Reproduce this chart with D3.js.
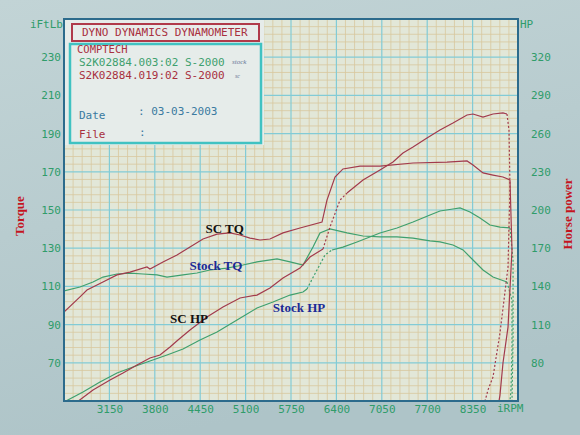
<!DOCTYPE html>
<html>
<head>
<meta charset="utf-8">
<script src="https://cdn.jsdelivr.net/npm/d3@7"></script>
<style>
  body { margin: 0; background: #bccfd2; }
  svg { display: block; }
  .tick text { font-family: "DejaVu Sans Mono", monospace; font-size: 11px; fill: #2f9c6a; }
  .mono { font-family: "DejaVu Sans Mono", monospace; font-size: 11px; }
  .tag { font-family: "Liberation Serif", serif; font-size: 13px; font-weight: bold; }
</style>
</head>
<body>
<div id="chart"></div>
<script>
// rpm ticks, torque ticks (lb ft), power ticks (HP)
const rpmTicks = [3150, 3800, 4450, 5100, 5750, 6400, 7050, 7700, 8350];
const torqueTicks = [70, 90, 110, 130, 150, 170, 190, 210, 230];
const hpTicks = [80, 110, 140, 170, 200, 230, 260, 290, 320];

// [rpm, lb ft]
const scTq = [
  [2500, 96.6], [2729, 104.5], [2829, 108.1], [3058, 112.3], [3259, 116.0], [3445, 117.5],
  [3688, 120.2], [3731, 119.1], [3917, 122.8], [4118, 126.4], [4304, 130.6], [4490, 134.8],
  [4691, 137.4], [4877, 138.0], [5020, 136.9], [5163, 135.3], [5306, 134.3], [5449, 134.8],
  [5635, 138.0], [5879, 140.6], [6194, 143.7], [6265, 155.2], [6380, 167.3], [6494, 171.5],
  [6738, 173.0], [7024, 173.0], [7497, 174.6], [7983, 175.1], [8270, 175.7], [8356, 173.6],
  [8499, 169.4], [8642, 168.3], [8785, 167.3], [8885, 165.7]
];
const scTqRundown = [[8914, 129.1], [8857, 88.7], [8785, 69.9], [8742, 53.1], [8728, 50]];

// [rpm, HP]
const scHp = [
  [2500, 41.4], [2686, 49.2], [2915, 58.6], [3159, 66.5], [3345, 72.0], [3545, 78.3],
  [3731, 83.8], [3874, 86.1], [4018, 92.4], [4132, 97.9], [4304, 105.8], [4547, 116.0],
  [4776, 123.8], [5020, 130.9], [5263, 133.2], [5449, 138.7], [5635, 146.6], [5879, 154.4],
  [6022, 163.1], [6208, 169.4], [6308, 186.6], [6452, 207.8], [6552, 213.3], [6781, 223.5],
  [7024, 231.4], [7210, 237.7], [7353, 244.8], [7497, 249.5], [7697, 256.5], [7883, 262.8],
  [8069, 268.3], [8270, 274.6], [8356, 275.4], [8499, 273.0], [8642, 275.4], [8785, 276.2],
  [8842, 275.4]
];
const scHpRundown = [[8871, 262.8], [8885, 218.0], [8857, 155.2], [8742, 103.4], [8642, 68.8], [8570, 58.6], [8528, 50]];

const stockTq = [
  [2500, 107.6], [2729, 109.7], [2915, 112.3], [3058, 114.9], [3259, 116.5], [3445, 117.0],
  [3631, 116.5], [3832, 116.0], [3975, 114.9], [4204, 116.0], [4404, 117.0], [4590, 118.6],
  [4834, 119.6], [5063, 121.2], [5263, 122.8], [5550, 124.4], [5736, 122.8], [5922, 121.2],
  [6065, 130.6], [6165, 138.0], [6308, 140.1], [6552, 138.0], [6781, 136.4], [7024, 135.9],
  [7268, 135.9], [7497, 135.3], [7740, 133.8], [7883, 133.3], [8069, 131.7], [8213, 129.1],
  [8356, 123.8], [8499, 118.6], [8642, 114.9], [8842, 112.3]
];
const stockTqRundown = [[8914, 102.9], [8914, 76.7], [8900, 55.8], [8885, 50]];

const stockHp = [
  [2500, 49.2], [2772, 57.1], [3015, 64.9], [3259, 72.0], [3488, 76.7], [3731, 81.4],
  [3975, 86.1], [4204, 90.8], [4447, 97.9], [4691, 104.2], [4977, 113.6], [5263, 123.0],
  [5492, 127.7], [5736, 133.2], [5922, 135.6], [5979, 138.0], [6122, 152.9], [6237, 164.7],
  [6337, 168.6], [6494, 170.9], [6695, 174.9], [7024, 181.9], [7268, 185.9], [7497, 190.6],
  [7740, 196.1], [7883, 199.2], [8069, 200.8], [8170, 201.6], [8313, 198.4], [8456, 193.7],
  [8599, 188.2], [8742, 186.6], [8885, 185.9]
];
const stockHpRundown = [[8929, 160.7], [8929, 97.9], [8914, 50]];

// rpm stretches where the trace was printed dotted
const scHpDotted = [[6208, 6552]];
const stockHpDotted = [[5979, 6337]];

const W = 580, H = 435;
const pL = 64, pR = 518, pT = 19, pB = 401;

const x = d3.scaleLinear().domain([2500, 9000]).range([pL, pR]);
const yT = d3.scaleLinear().domain([50, 250]).range([pB, pT]);
const yH = d3.scaleLinear().domain([50, 350]).range([pB, pT]);

const red = "#a23a4c", green = "#3ea06e", tickGreen = "#2f9c6a";

const svg = d3.select("#chart").append("svg").attr("width", W).attr("height", H);

const defs = svg.append("defs");
defs.append("clipPath").attr("id", "plotclip")
  .append("rect").attr("x", pL).attr("y", pT).attr("width", pR - pL).attr("height", pB - pT);
const bg = defs.append("linearGradient").attr("id", "bg").attr("x1", 0).attr("y1", 0).attr("x2", 0.3).attr("y2", 1);
bg.append("stop").attr("offset", 0).attr("stop-color", "#c2d4d6");
bg.append("stop").attr("offset", 1).attr("stop-color", "#aec4c8");

svg.append("rect").attr("width", W).attr("height", H).attr("fill", "url(#bg)");

// paper
svg.append("rect").attr("x", pL).attr("y", pT).attr("width", pR - pL).attr("height", pB - pT)
  .attr("fill", "#e2e7d8");

// minor grid (5 per major)
const minorX = d3.range(2500, 9000, 130).filter(v => (v - 2500) % 650 != 0);
const minorY = d3.range(50, 250, 4).filter(v => (v - 50) % 20 != 0);
const grid = svg.append("g");
grid.selectAll(".mx").data(minorX).join("line")
  .attr("x1", d => x(d)).attr("x2", d => x(d)).attr("y1", pT).attr("y2", pB)
  .attr("stroke", "#d8c89e").attr("stroke-width", 0.8);
grid.selectAll(".my").data(minorY).join("line")
  .attr("y1", d => yT(d)).attr("y2", d => yT(d)).attr("x1", pL).attr("x2", pR)
  .attr("stroke", "#d8c89e").attr("stroke-width", 0.8);

// major grid
grid.selectAll(".Mx").data(d3.range(2500, 9001, 650)).join("line")
  .attr("x1", d => x(d)).attr("x2", d => x(d)).attr("y1", pT).attr("y2", pB)
  .attr("stroke", "#82cbd6").attr("stroke-width", 1.2);
grid.selectAll(".My").data(d3.range(50, 251, 20)).join("line")
  .attr("y1", d => yT(d)).attr("y2", d => yT(d)).attr("x1", pL).attr("x2", pR)
  .attr("stroke", "#82cbd6").attr("stroke-width", 1.2);

// split a trace into solid / dotted runs
function pieces(pts, ranges) {
  let out = [], cur = null;
  for (let i = 0; i < pts.length - 1; i++) {
    let mid = (pts[i][0] + pts[i + 1][0]) / 2;
    let dotted = ranges.some(r => mid > r[0] && mid < r[1]);
    if (!cur || cur.dotted != dotted) {
      cur = { dotted: dotted, pts: [pts[i]] };
      out.push(cur);
    }
    cur.pts.push(pts[i + 1]);
  }
  return out;
}

const curves = svg.append("g").attr("clip-path", "url(#plotclip)");

function drawTrace(main, rundown, yScale, color, dotted, rundownDotted) {
  let line = d3.line().x(d => x(d[0])).y(d => yScale(d[1]));
  pieces(main, dotted).forEach(p => {
    curves.append("path").attr("d", line(p.pts))
      .attr("fill", "none").attr("stroke", color).attr("stroke-width", 1.2)
      .attr("stroke-dasharray", p.dotted ? "2,2" : null);
  });
  curves.append("path").attr("d", line([main[main.length - 1]].concat(rundown)))
    .attr("fill", "none").attr("stroke", color).attr("stroke-width", 1.2)
    .attr("stroke-dasharray", rundownDotted ? "2,2" : null);
}

drawTrace(stockTq, stockTqRundown, yT, green, [], true);
drawTrace(stockHp, stockHpRundown, yH, green, stockHpDotted, true);
drawTrace(scTq, scTqRundown, yT, red, [], false);
drawTrace(scHp, scHpRundown, yH, red, scHpDotted, true);

// info box
const box = svg.append("g");
box.append("rect").attr("x", pL + 1).attr("y", pT + 1).attr("width", 199).attr("height", 125).attr("fill", "#e6ecea");
box.append("rect").attr("x", 72).attr("y", 24).attr("width", 187).attr("height", 17)
  .attr("fill", "#e8ecea").attr("stroke", "#b03a4a").attr("stroke-width", 2);
box.append("rect").attr("x", 70).attr("y", 44).attr("width", 191).attr("height", 99)
  .attr("fill", "none").attr("stroke", "#40c2c2").attr("stroke-width", 2.5);

function txt(s, xx, yy, color, size) {
  return box.append("text").attr("class", "mono").attr("x", xx).attr("y", yy).attr("fill", color)
    .style("font-size", (size || 11) + "px").text(s);
}
txt("DYNO DYNAMICS DYNAMOMETER", 82, 36, "#a8303e");
txt("COMPTECH", 77, 52.5, "#a8303e", 10.5);
txt("S2K02884.003:02 S-2000", 79, 65.5, green);
txt("S2K02884.019:02 S-2000", 79, 78.5, "#a8303e");
txt("Date", 79, 119, "#3a7aa0");
txt(": 03-03-2003", 138, 115, "#3a7aa0");
txt("File", 79, 138, "#a8303e");
txt(":", 139, 136, "#3a7aa0");
box.append("text").attr("x", 232).attr("y", 64).attr("fill", "#6a7898")
  .style("font-family", "Liberation Serif, serif").style("font-style", "italic").style("font-size", "7px").text("stock");
box.append("text").attr("x", 235).attr("y", 78).attr("fill", "#6a7898")
  .style("font-family", "Liberation Serif, serif").style("font-style", "italic").style("font-size", "6px").text("sc");

// frame
svg.append("rect").attr("x", pL).attr("y", pT).attr("width", pR - pL).attr("height", pB - pT)
  .attr("fill", "none").attr("stroke", "#2c6b8c").attr("stroke-width", 2);

// axes
svg.append("g").attr("transform", "translate(" + pL + ",0)")
  .call(d3.axisLeft(yT).tickValues(torqueTicks).tickFormat(d3.format("d")).tickSize(0).tickPadding(3))
  .call(g => g.select(".domain").remove());
svg.append("g").attr("transform", "translate(" + pR + ",0)")
  .call(d3.axisRight(yH).tickValues(hpTicks).tickFormat(d3.format("d")).tickSize(0).tickPadding(13))
  .call(g => g.select(".domain").remove());
svg.append("g").attr("transform", "translate(0," + pB + ")")
  .call(d3.axisBottom(x).tickValues(rpmTicks).tickFormat(d3.format("d")).tickSize(0).tickPadding(4))
  .call(g => g.select(".domain").remove());

svg.append("text").attr("class", "mono").attr("x", pL - 1).attr("y", 28).attr("text-anchor", "end")
  .attr("fill", tickGreen).text("iFtLb");
svg.append("text").attr("class", "mono").attr("x", pR + 2).attr("y", 28)
  .attr("fill", tickGreen).text("HP");
svg.append("text").attr("class", "mono").attr("x", pR - 21).attr("y", 412)
  .attr("fill", tickGreen).text("iRPM");

// axis titles
svg.append("text").attr("class", "tag").attr("fill", "#c4141e").attr("text-anchor", "middle")
  .attr("transform", "translate(24,216) rotate(-90)").text("Torque");
svg.append("text").attr("class", "tag").attr("fill", "#c4141e").attr("text-anchor", "middle")
  .attr("transform", "translate(572,214) rotate(-90)").text("Horse power");

// trace labels (anchored in rpm / lb ft)
const tags = [
  ["SC TQ", 4800, 138, "#111111"],
  ["Stock TQ", 4676, 118.6, "#1c2a96"],
  ["SC HP", 4290, 90.8, "#111111"],
  ["Stock HP", 5865, 96.6, "#1c2a96"]
];
tags.forEach(t => {
  svg.append("text").attr("class", "tag").attr("fill", t[3]).attr("text-anchor", "middle")
    .attr("x", x(t[1])).attr("y", yT(t[2])).text(t[0]);
});
</script>
</body>
</html>
